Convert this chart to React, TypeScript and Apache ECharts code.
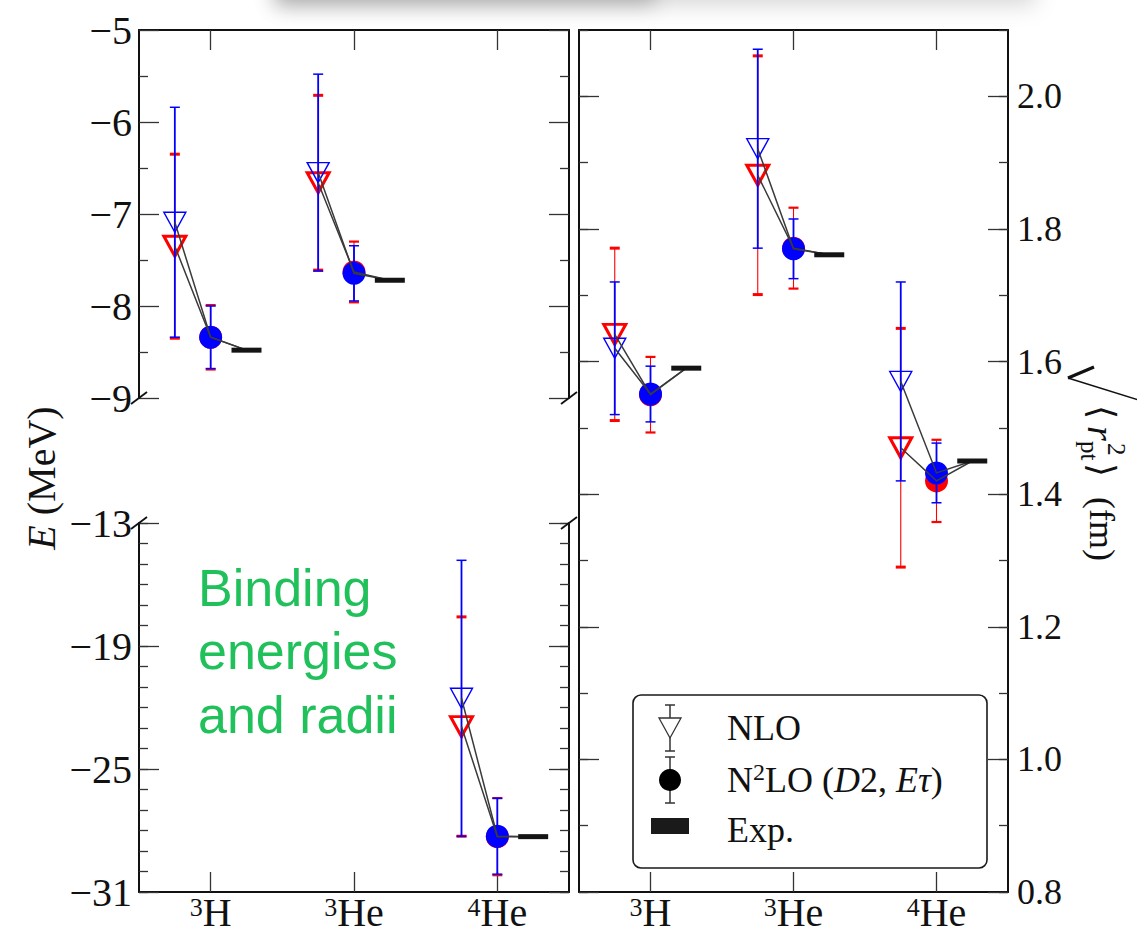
import React, { useEffect, useRef } from 'react';
import * as echarts from 'echarts';

// ---------------- data ----------------
const nucleusMass = ['3', '3', '4'];
const nucleusSymbol = ['H', 'He', 'He'];
const nucleusX = [1, 2, 3];

// Binding energies E (MeV)
const energyNloBlue = [-7.09, -6.55, -21.55];
const energyNloBlueErr = [1.25, 1.07, 6.73];
const energyNloRed = [-7.35, -6.66, -22.93];
const energyNloRedErr = [1.0, 0.95, 5.35];
const energyN2loBlue = [-8.34, -7.645, -28.28];
const energyN2loBlueErr = [0.34, 0.3, 1.85];
const energyN2loRed = [-8.34, -7.63, -28.3];
const energyN2loRedErr = [0.35, 0.33, 1.88];
const energyExp = [-8.48, -7.72, -28.3];

// Point-proton radii (fm)
const radiusNloBlue = [1.62, 1.921, 1.57];
const radiusNloBlueErr = [0.1, 0.15, 0.15];
const radiusNloRed = [1.641, 1.881, 1.47];
const radiusNloRedErr = [0.13, 0.18, 0.18];
const radiusN2loBlue = [1.551, 1.77, 1.432];
const radiusN2loBlueErr = [0.042, 0.045, 0.045];
const radiusN2loRed = [1.55, 1.771, 1.42];
const radiusN2loRedErr = [0.057, 0.061, 0.062];
const radiusExp = [1.59, 1.761, 1.45];

// tick values
const energyBottomTicks = [-31, -25, -19, -13];
const radiusTicks = [0.8, 1.0, 1.2, 1.4, 1.6, 1.8, 2.0];
const nucleusTicks = [1, 2, 3];

const legendLabels = [
  '{n|NLO}',
  '{n|N}{sup|2}{n|LO (}{i|D}{n|2, }{i|Eτ}{n|)}',
  '{n|Exp.}',
];

// ---------------- styles ----------------
const SERIF = '"Liberation Serif", "Times New Roman", "DejaVu Serif", serif';
const SANS = '"Liberation Sans", Arial, Helvetica, sans-serif';
const RED = '#ff0000';
const BLUE = '#0000ff';
const LINK = '#3a3a3a';
const TEXT = '#111111';
const NLO_OFF = -0.25;
const EXP_OFF = 0.25;

const tickStyle = { color: '#333333', width: 1.3 };
const spine = { show: true, onZero: false, lineStyle: { color: '#111111', width: 2 } };
const noLine = { show: false, onZero: false };
const noSplit = { splitLine: { show: false }, minorSplitLine: { show: false } };

const fmtE = (v: number) => (v < 0 ? '\u2212' : '') + Math.abs(v);
const fmtNucleus = (v: number) => {
  const i = nucleusX.indexOf(Math.round(v));
  return i < 0 ? '' : `{sup|${nucleusMass[i]}}{n|${nucleusSymbol[i]}}`;
};

function yAx(gridIndex: number, position: string, min: number, max: number, o: any) {
  const ax: any = {
    type: 'value', gridIndex, position, min, max, ...noSplit,
    axisLine: o.line ? spine : noLine,
    axisTick: { show: true, inside: true, length: o.tickLen ?? 20, lineStyle: tickStyle },
    minorTick: { show: !!o.minor, splitNumber: o.minor || 2, length: 9, lineStyle: tickStyle },
    axisLabel: { show: false },
  };
  if (o.interval !== undefined) ax.interval = o.interval;
  if (o.ticks) ax.axisTick.customValues = o.ticks;
  if (o.label) ax.axisLabel = o.label;
  return ax;
}

function xAx(gridIndex: number, position: string, o: any) {
  const ax: any = {
    type: 'value', gridIndex, position, min: 0.5, max: 3.5, show: o.show !== false, ...noSplit,
    axisLine: spine,
    axisTick: { show: true, inside: true, length: 20, lineStyle: tickStyle, customValues: nucleusTicks },
    minorTick: { show: false },
    axisLabel: { show: false },
  };
  if (o.labels) {
    ax.axisLabel = {
      show: true, customValues: nucleusTicks, margin: 2, formatter: fmtNucleus,
      fontFamily: SERIF, fontSize: 40, color: TEXT,
      rich: {
        sup: { fontFamily: SERIF, fontSize: 26, lineHeight: 26, verticalAlign: 'top', color: TEXT },
        n: { fontFamily: SERIF, fontSize: 40, lineHeight: 36, color: TEXT },
      },
    };
  }
  return ax;
}

function errorBars(xi: number, yi: number, data: number[][], color: string, lw: number, capLw: number, z: number) {
  return {
    type: 'custom', xAxisIndex: xi, yAxisIndex: yi, z, silent: true, data,
    renderItem: (_p: any, api: any) => {
      const x = api.value(0), y = api.value(1), e = api.value(2);
      const a = api.coord([x, y + e]);
      const b = api.coord([x, y - e]);
      const hw = 5;
      const st = (w: number) => ({ stroke: color, lineWidth: w, opacity: 1 });
      return {
        type: 'group',
        children: [
          { type: 'line', shape: { x1: a[0], y1: a[1], x2: b[0], y2: b[1] }, style: st(lw) },
          { type: 'line', shape: { x1: a[0] - hw, y1: a[1], x2: a[0] + hw, y2: a[1] }, style: st(capLw) },
          { type: 'line', shape: { x1: b[0] - hw, y1: b[1], x2: b[0] + hw, y2: b[1] }, style: st(capLw) },
        ],
      };
    },
  };
}

function links(xi: number, yi: number, data: number[][], z: number) {
  return {
    type: 'custom', xAxisIndex: xi, yAxisIndex: yi, z, silent: true, data,
    renderItem: (_p: any, api: any) => {
      const x = api.value(0);
      const pts = [
        api.coord([x + NLO_OFF, api.value(1)]),
        api.coord([x, api.value(2)]),
        api.coord([x + EXP_OFF, api.value(3)]),
      ];
      return { type: 'polyline', shape: { points: pts }, style: { stroke: LINK, lineWidth: 1.5, fill: 'none', opacity: 1 } };
    },
  };
}

function triangles(xi: number, yi: number, data: number[][], color: string, bw: number, z: number) {
  return {
    type: 'scatter', xAxisIndex: xi, yAxisIndex: yi, z, silent: true, data,
    symbol: 'triangle', symbolRotate: 180, symbolSize: [22, 20],
    itemStyle: { color: 'rgba(255,255,255,0)', borderColor: color, borderWidth: bw, opacity: 1 },
    emphasis: { disabled: true },
  };
}

function circles(xi: number, yi: number, data: number[][], color: string, z: number) {
  return {
    type: 'scatter', xAxisIndex: xi, yAxisIndex: yi, z, silent: true, data,
    symbol: 'circle', symbolSize: 23, itemStyle: { color, opacity: 1 },
    emphasis: { disabled: true },
  };
}

type PanelData = {
  nloB: number[]; nloBErr: number[]; nloR: number[]; nloRErr: number[];
  n2B: number[]; n2BErr: number[]; n2R: number[]; n2RErr: number[]; exp: number[];
};

function panelSeries(xi: number, yi: number, d: PanelData, idx: number[]) {
  const pts = (vals: number[], off: number) => idx.map((i) => [nucleusX[i] + off, vals[i]]);
  const errs = (vals: number[], es: number[], off: number) => idx.map((i) => [nucleusX[i] + off, vals[i], es[i]]);
  const link = (nlo: number[], n2: number[]) => idx.map((i) => [nucleusX[i], nlo[i], n2[i], d.exp[i]]);
  return [
    errorBars(xi, yi, errs(d.nloR, d.nloRErr, NLO_OFF), RED, 1.1, 3, 2),
    errorBars(xi, yi, errs(d.n2R, d.n2RErr, 0), RED, 1.1, 2.2, 2),
    triangles(xi, yi, pts(d.nloR, NLO_OFF), RED, 3, 3),
    circles(xi, yi, pts(d.n2R, 0), RED, 3),
    errorBars(xi, yi, errs(d.nloB, d.nloBErr, NLO_OFF), BLUE, 1.8, 1.5, 4),
    errorBars(xi, yi, errs(d.n2B, d.n2BErr, 0), BLUE, 1.8, 1.5, 4),
    triangles(xi, yi, pts(d.nloB, NLO_OFF), BLUE, 1.4, 5),
    circles(xi, yi, pts(d.n2B, 0), BLUE, 5),
    links(xi, yi, link(d.nloR, d.n2R), 6),
    links(xi, yi, link(d.nloB, d.n2B), 6),
    {
      type: 'scatter', xAxisIndex: xi, yAxisIndex: yi, z: 7, silent: true,
      data: pts(d.exp, EXP_OFF), symbol: 'rect', symbolSize: [30, 5],
      itemStyle: { color: '#141414', opacity: 1 }, emphasis: { disabled: true },
    },
  ];
}

const energyData: PanelData = {
  nloB: energyNloBlue, nloBErr: energyNloBlueErr, nloR: energyNloRed, nloRErr: energyNloRedErr,
  n2B: energyN2loBlue, n2BErr: energyN2loBlueErr, n2R: energyN2loRed, n2RErr: energyN2loRedErr, exp: energyExp,
};
const radiusData: PanelData = {
  nloB: radiusNloBlue, nloBErr: radiusNloBlueErr, nloR: radiusNloRed, nloRErr: radiusNloRedErr,
  n2B: radiusN2loBlue, n2BErr: radiusN2loBlueErr, n2R: radiusN2loRed, n2RErr: radiusN2loRedErr, exp: radiusExp,
};

const leftLabel = (custom?: number[]) => {
  const l: any = { show: true, margin: 7, fontFamily: SERIF, fontSize: 40, color: TEXT, formatter: fmtE };
  if (custom) l.customValues = custom;
  return l;
};

function buildGraphics() {
  const g: any[] = [];
  // faint shadow at the top edge (darker on the left)
  g.push({
    type: 'rect', shape: { x: 275, y: -40, width: 760, height: 40 }, silent: true,
    style: { fill: '#ffffff', shadowBlur: 22, shadowColor: 'rgba(0,0,0,0.16)', shadowOffsetY: 5 },
  });
  g.push({
    type: 'rect', shape: { x: 275, y: -40, width: 380, height: 40 }, silent: true,
    style: { fill: '#ffffff', shadowBlur: 20, shadowColor: 'rgba(0,0,0,0.22)', shadowOffsetY: 5 },
  });
  // axis break marks
  const brk = (cx: number, cy: number) => ({
    type: 'line', shape: { x1: cx - 8, y1: cy + 6, x2: cx + 8, y2: cy - 6 },
    style: { stroke: '#111', lineWidth: 1.8 }, z: 50,
  });
  g.push(brk(139, 398), brk(569, 398), brk(139, 523), brk(569, 523));

  // y title (left)
  g.push({
    type: 'text', x: 41, y: 478, rotation: Math.PI / 2,
    style: {
      text: '{i|E}{n| (MeV)}', align: 'center', verticalAlign: 'middle',
      rich: {
        i: { fontFamily: SERIF, fontSize: 40, fontStyle: 'italic', fill: TEXT },
        n: { fontFamily: SERIF, fontSize: 40, fill: TEXT },
      },
    },
  });

  // y title (right), reading top -> bottom
  const tStyle = (text: string, size: number, italic?: boolean) => ({
    text, fontFamily: SERIF, fontSize: size, fontStyle: italic ? 'italic' : 'normal',
    fill: TEXT, align: 'left', verticalAlign: 'middle',
  });
  g.push({
    type: 'group', x: 1102, y: 405, rotation: -Math.PI / 2,
    children: [
      { type: 'text', x: 0, y: 0, style: tStyle('\u27e8', 36) },
      { type: 'text', x: 21, y: 1, style: tStyle('r', 38, true) },
      { type: 'text', x: 38, y: -14, style: tStyle('2', 25) },
      { type: 'text', x: 36, y: 13, style: tStyle('pt', 25) },
      { type: 'text', x: 58, y: 0, style: tStyle('\u27e9', 36) },
      { type: 'text', x: 92, y: 0, style: tStyle('(fm)', 36) },
    ],
  });
  // radical sign
  g.push({ type: 'line', shape: { x1: 1094, y1: 367, x2: 1068, y2: 378 }, style: { stroke: TEXT, lineWidth: 3.2 } });
  g.push({ type: 'line', shape: { x1: 1068, y1: 378, x2: 1145, y2: 402 }, style: { stroke: TEXT, lineWidth: 1.5 } });

  // green annotation
  g.push({
    type: 'text', x: 198, y: 556,
    style: {
      text: 'Binding\nenergies\nand radii', fontFamily: SANS, fontSize: 52, lineHeight: 63.5,
      fill: '#20c05a', align: 'left', verticalAlign: 'top',
    },
  });

  // legend
  const mk = '#333333';
  const legend: any[] = [
    { type: 'rect', shape: { x: 633, y: 695, width: 354, height: 173, r: 8 }, style: { fill: '#fff', stroke: '#1a1a1a', lineWidth: 1.6 } },
    // NLO
    { type: 'line', shape: { x1: 670, y1: 705, x2: 670, y2: 751 }, style: { stroke: mk, lineWidth: 1.5 } },
    { type: 'line', shape: { x1: 665, y1: 705, x2: 675, y2: 705 }, style: { stroke: mk, lineWidth: 1.5 } },
    { type: 'line', shape: { x1: 665, y1: 751, x2: 675, y2: 751 }, style: { stroke: mk, lineWidth: 1.5 } },
    { type: 'polygon', shape: { points: [[659, 718], [681, 718], [670, 738]] }, style: { fill: '#fff', stroke: mk, lineWidth: 1.3 } },
    // N2LO
    { type: 'line', shape: { x1: 670, y1: 757, x2: 670, y2: 803 }, style: { stroke: mk, lineWidth: 1.5 } },
    { type: 'line', shape: { x1: 665, y1: 757, x2: 675, y2: 757 }, style: { stroke: mk, lineWidth: 1.5 } },
    { type: 'line', shape: { x1: 665, y1: 803, x2: 675, y2: 803 }, style: { stroke: mk, lineWidth: 1.5 } },
    { type: 'circle', shape: { cx: 670, cy: 780, r: 11 }, style: { fill: '#000' } },
    // Exp
    { type: 'rect', shape: { x: 651, y: 818, width: 38, height: 16 }, style: { fill: '#1a1a1a' } },
  ];
  const rows = [728, 780, 830];
  legendLabels.forEach((lab, i) => {
    legend.push({
      type: 'text', x: 727, y: rows[i],
      style: {
        text: lab, align: 'left', verticalAlign: 'middle',
        rich: {
          n: { fontFamily: SERIF, fontSize: 36, lineHeight: 40, fill: TEXT },
          i: { fontFamily: SERIF, fontSize: 36, lineHeight: 40, fontStyle: 'italic', fill: TEXT },
          sup: { fontFamily: SERIF, fontSize: 24, lineHeight: 24, verticalAlign: 'top', fill: TEXT },
        },
      },
    });
  });
  g.push({ type: 'group', z: 100, children: legend });
  return g;
}

function buildOption() {
  return {
    animation: false,
    backgroundColor: '#ffffff',
    tooltip: { show: false },
    grid: [
      { left: 139, top: 30, width: 430, height: 368 },
      { left: 139, top: 523, width: 430, height: 369 },
      { left: 579, top: 30, width: 429, height: 862 },
    ],
    xAxis: [
      xAx(0, 'bottom', { show: false }),
      xAx(0, 'top', {}),
      xAx(1, 'bottom', { labels: true }),
      xAx(1, 'top', { show: false }),
      xAx(2, 'bottom', { labels: true }),
      xAx(2, 'top', {}),
    ],
    yAxis: [
      yAx(0, 'left', -9, -5, { line: true, interval: 1, minor: 2, label: leftLabel() }),
      yAx(0, 'right', -9, -5, { line: true, interval: 1, minor: 2 }),
      yAx(1, 'left', -31, -13, { line: true, interval: 1, ticks: energyBottomTicks, label: leftLabel(energyBottomTicks) }),
      yAx(1, 'right', -31, -13, { line: true, interval: 1, ticks: energyBottomTicks }),
      yAx(1, 'left', -31, -13, { line: false, interval: 1, tickLen: 9 }),
      yAx(1, 'right', -31, -13, { line: false, interval: 1, tickLen: 9 }),
      yAx(2, 'left', 0.8, 2.1, { line: true, ticks: radiusTicks }),
      yAx(2, 'right', 0.8, 2.1, {
        line: true, ticks: radiusTicks,
        label: {
          show: true, customValues: radiusTicks, margin: 9, fontFamily: SERIF, fontSize: 36, color: TEXT,
          formatter: (v: number) => v.toFixed(1),
        },
      }),
      yAx(2, 'left', 0.8, 2.1, { line: false, interval: 0.1, tickLen: 9 }),
      yAx(2, 'right', 0.8, 2.1, { line: false, interval: 0.1, tickLen: 9 }),
    ],
    series: [
      ...panelSeries(0, 0, energyData, [0, 1]),
      ...panelSeries(2, 2, energyData, [2]),
      ...panelSeries(4, 6, radiusData, [0, 1, 2]),
    ],
    graphic: buildGraphics(),
  };
}

export default function App() {
  const ref = useRef<HTMLDivElement>(null);
  useEffect(() => {
    if (!ref.current) return;
    const prevMargin = document.body.style.margin;
    document.body.style.margin = '0';
    const chart = echarts.init(ref.current, undefined, { renderer: 'svg' });
    chart.setOption(buildOption() as any);
    return () => {
      chart.dispose();
      document.body.style.margin = prevMargin;
    };
  }, []);
  return <div ref={ref} style={{ width: 1137, height: 933, background: '#fff' }} />;
}
